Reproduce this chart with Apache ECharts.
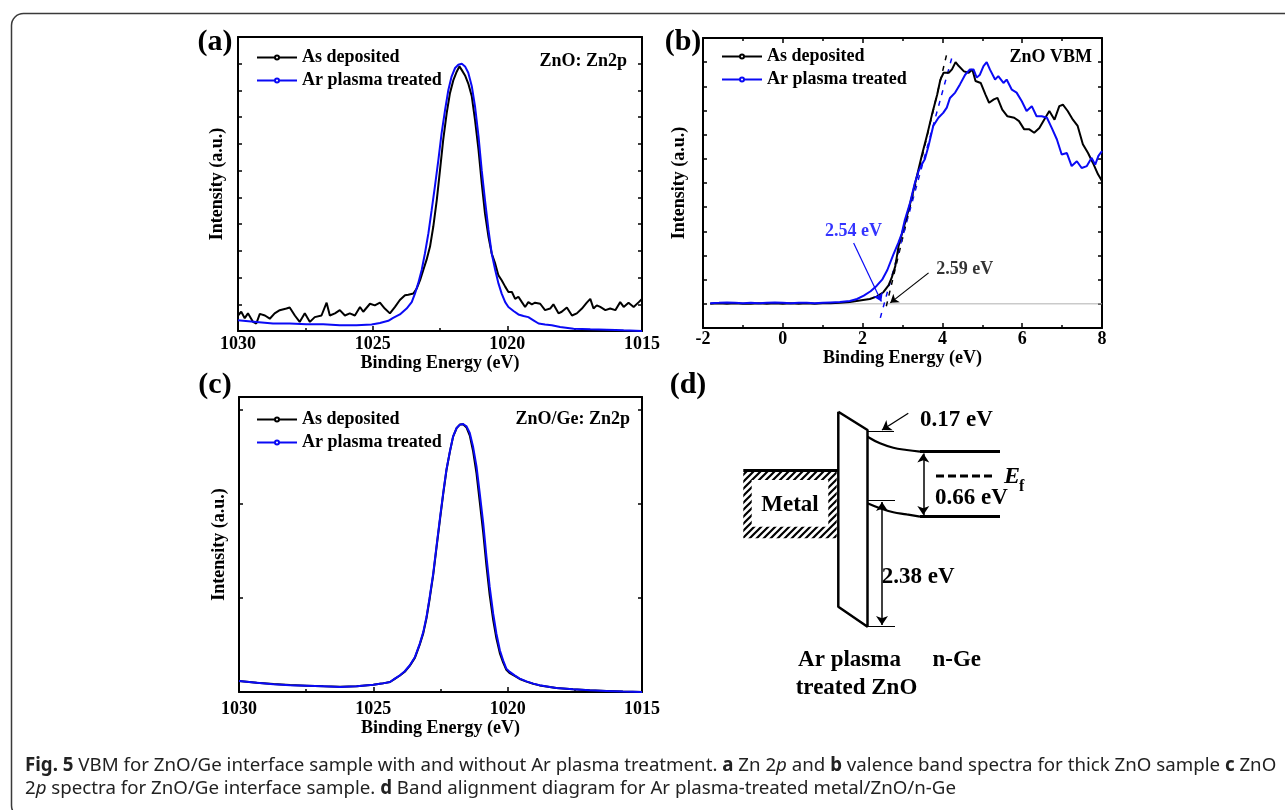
<!DOCTYPE html>
<html>
<head>
<meta charset="utf-8">
<script src="https://cdn.jsdelivr.net/npm/echarts@6/dist/echarts.min.js"></script>
<style>
  html, body { margin: 0; padding: 0; background: #fff; }
  #chart { width: 1285px; height: 810px; }
</style>
</head>
<body>
<div id="chart"></div>
<script>
// ---- (a) ZnO: Zn2p, thick ZnO sample  [binding energy eV, intensity a.u.]
const aAsDeposited = [
  [1030.00, 0.29], [1029.88, 0.36], [1029.75, 0.24], [1029.63, 0.33], [1029.44, 0.17], [1029.32, 0.14],
  [1029.19, 0.32], [1029.00, 0.29], [1028.82, 0.23], [1028.64, 0.33], [1028.45, 0.39], [1028.20, 0.42],
  [1028.08, 0.44], [1027.89, 0.29], [1027.71, 0.17], [1027.52, 0.33], [1027.33, 0.17], [1027.15, 0.26],
  [1026.90, 0.29], [1026.71, 0.53], [1026.59, 0.29], [1026.40, 0.33], [1026.22, 0.39], [1026.03, 0.29],
  [1025.85, 0.33], [1025.66, 0.29], [1025.47, 0.45], [1025.35, 0.36], [1025.10, 0.51], [1024.92, 0.48],
  [1024.73, 0.53], [1024.55, 0.42], [1024.36, 0.33], [1024.17, 0.45], [1023.99, 0.58], [1023.80, 0.67],
  [1023.68, 0.68], [1023.49, 0.70], [1023.37, 0.79], [1023.24, 0.95], [1023.12, 1.14], [1023.00, 1.33],
  [1022.87, 1.58], [1022.75, 1.95], [1022.62, 2.45], [1022.50, 3.01], [1022.38, 3.58], [1022.25, 4.08],
  [1022.13, 4.45], [1022.00, 4.70], [1021.88, 4.85], [1021.78, 4.95], [1021.69, 4.88], [1021.57, 4.78],
  [1021.45, 4.63], [1021.32, 4.39], [1021.20, 3.95], [1021.07, 3.39], [1020.95, 2.76], [1020.83, 2.20],
  [1020.70, 1.76], [1020.58, 1.45], [1020.45, 1.26], [1020.33, 1.04], [1020.21, 0.95], [1020.08, 0.83],
  [1019.96, 0.73], [1019.83, 0.73], [1019.71, 0.60], [1019.59, 0.64], [1019.46, 0.54], [1019.34, 0.45],
  [1019.22, 0.54], [1019.09, 0.50], [1018.97, 0.53], [1018.78, 0.51], [1018.60, 0.39], [1018.41, 0.42],
  [1018.29, 0.50], [1018.10, 0.33], [1017.98, 0.36], [1017.79, 0.44], [1017.60, 0.29], [1017.42, 0.33],
  [1017.23, 0.42], [1017.05, 0.53], [1016.92, 0.60], [1016.80, 0.42], [1016.68, 0.48], [1016.55, 0.45],
  [1016.36, 0.39], [1016.18, 0.42], [1015.99, 0.39], [1015.81, 0.54], [1015.68, 0.45], [1015.50, 0.53],
  [1015.31, 0.45], [1015.12, 0.54], [1015.00, 0.60]
];
const aArPlasma = [
  [1030.00, 0.20], [1029.32, 0.17], [1028.70, 0.14], [1028.08, 0.14], [1027.46, 0.125], [1026.84, 0.125],
  [1026.22, 0.106], [1025.60, 0.106], [1025.04, 0.12], [1024.73, 0.15], [1024.42, 0.19], [1024.24, 0.245],
  [1023.99, 0.31], [1023.74, 0.42], [1023.55, 0.54], [1023.43, 0.70], [1023.31, 0.89], [1023.18, 1.14],
  [1023.06, 1.45], [1022.93, 1.83], [1022.81, 2.26], [1022.69, 2.70], [1022.56, 3.20], [1022.44, 3.70],
  [1022.31, 4.14], [1022.19, 4.51], [1022.07, 4.76], [1021.94, 4.92], [1021.82, 4.98], [1021.69, 5.00],
  [1021.57, 4.95], [1021.45, 4.83], [1021.32, 4.58], [1021.20, 4.20], [1021.07, 3.64], [1020.95, 3.00],
  [1020.83, 2.45], [1020.70, 1.89], [1020.58, 1.45], [1020.45, 1.14], [1020.33, 0.89], [1020.21, 0.70],
  [1020.08, 0.54], [1019.96, 0.45], [1019.77, 0.375], [1019.59, 0.31], [1019.40, 0.28], [1019.22, 0.26],
  [1019.03, 0.20], [1018.84, 0.14], [1018.60, 0.12], [1018.35, 0.106], [1018.04, 0.075], [1017.54, 0.044],
  [1016.92, 0.031], [1016.30, 0.025], [1015.68, 0.0125], [1015.00, 0.0]
];

// ---- (b) ZnO VBM  [binding energy eV, intensity a.u.]
const bAsDeposited = [
  [-1.82, 0.00], [-1.6, 0.01], [-1.4, 0.00], [-1.2, 0.01], [-1.0, 0.00], [-0.8, 0.00], [-0.6, 0.01],
  [-0.4, 0.00], [-0.2, 0.01], [0.0, 0.00], [0.2, 0.01], [0.4, 0.00], [0.6, 0.01], [0.8, 0.00], [1.0, 0.01],
  [1.2, 0.01], [1.43, 0.02], [1.68, 0.04], [1.93, 0.07], [2.18, 0.10], [2.35, 0.15], [2.52, 0.24],
  [2.65, 0.38], [2.73, 0.54], [2.82, 0.78], [2.90, 1.19], [2.98, 1.43], [3.11, 1.81], [3.24, 2.23],
  [3.36, 2.64], [3.49, 3.09], [3.61, 3.47], [3.74, 3.92], [3.87, 4.33], [3.95, 4.64], [4.03, 4.78],
  [4.16, 4.78], [4.24, 4.85], [4.33, 5.00], [4.41, 4.92], [4.54, 4.81], [4.66, 4.78], [4.75, 4.85],
  [4.83, 4.61], [4.96, 4.57], [5.08, 4.33], [5.17, 4.16], [5.29, 4.23], [5.38, 4.26], [5.50, 4.02],
  [5.63, 3.88], [5.80, 3.85], [5.92, 3.78], [6.05, 3.61], [6.18, 3.61], [6.30, 3.54], [6.43, 3.64],
  [6.55, 3.81], [6.68, 3.99], [6.81, 3.81], [6.93, 4.09], [7.02, 4.12], [7.14, 3.99], [7.27, 3.81],
  [7.39, 3.68], [7.52, 3.30], [7.65, 3.12], [7.77, 2.92], [7.90, 2.68], [8.00, 2.54]
];
const bArPlasma = [
  [-1.82, 0.01], [-1.6, 0.02], [-1.4, 0.03], [-1.2, 0.02], [-1.0, 0.01], [-0.8, 0.02], [-0.6, 0.01],
  [-0.4, 0.02], [-0.2, 0.03], [0.0, 0.02], [0.2, 0.01], [0.4, 0.02], [0.6, 0.02], [0.8, 0.01], [1.0, 0.02],
  [1.2, 0.03], [1.43, 0.04], [1.68, 0.06], [1.86, 0.10], [2.03, 0.17], [2.20, 0.26], [2.35, 0.37],
  [2.49, 0.50], [2.62, 0.70], [2.77, 1.02], [2.90, 1.27], [2.98, 1.45], [3.06, 1.74], [3.19, 2.09],
  [3.31, 2.50], [3.40, 2.74], [3.48, 2.88], [3.56, 2.99], [3.65, 3.26], [3.77, 3.68], [3.90, 3.85],
  [4.02, 3.95], [4.11, 4.06], [4.19, 4.26], [4.32, 4.37], [4.44, 4.54], [4.57, 4.74], [4.69, 4.85],
  [4.78, 4.85], [4.86, 4.68], [4.94, 4.74], [5.03, 4.92], [5.11, 5.00], [5.19, 4.85], [5.32, 4.64],
  [5.40, 4.71], [5.53, 4.57], [5.61, 4.64], [5.74, 4.43], [5.86, 4.37], [5.99, 4.19], [6.11, 3.99],
  [6.24, 4.09], [6.36, 3.88], [6.49, 3.88], [6.62, 3.85], [6.74, 3.64], [6.87, 3.40], [6.99, 3.09],
  [7.12, 3.12], [7.24, 2.85], [7.37, 2.95], [7.49, 2.81], [7.62, 2.85], [7.74, 3.02], [7.83, 2.88],
  [7.91, 3.06], [8.00, 3.16]
];
const bBaseline = [[-1.82, 0], [8, 0]];
const bEdgeFitAsDeposited = [[2.594, -0.05], [4.115, 5.19]];
const bEdgeFitArPlasma = [[2.444, -0.29], [4.266, 5.18]];
const bArrowArPlasma = [[1.775, 1.26], [2.47, 0.05]];
const bArrowAsDeposited = [[3.654, 0.64], [2.694, 0.02]];
const bOnsetLabels = [['2.54 eV', 1.774, 1.50], ['2.59 eV', 4.56, 0.72]];

// ---- (c) ZnO/Ge: Zn2p  [binding energy eV, intensity a.u.]
const cAsDeposited = [
  [1030.00, 0.117], [1029.34, 0.099], [1028.72, 0.085], [1028.10, 0.074], [1027.48, 0.067], [1026.86, 0.060],
  [1026.24, 0.055], [1025.62, 0.060], [1025.00, 0.078], [1024.69, 0.089], [1024.38, 0.106], [1024.20, 0.140],
  [1024.01, 0.175], [1023.83, 0.215], [1023.64, 0.280], [1023.45, 0.365], [1023.27, 0.505], [1023.14, 0.625],
  [1023.02, 0.785], [1022.90, 0.995], [1022.77, 1.245], [1022.65, 1.530], [1022.52, 1.830], [1022.40, 2.100],
  [1022.28, 2.350], [1022.15, 2.550], [1022.03, 2.710], [1021.90, 2.800], [1021.78, 2.837], [1021.66, 2.840],
  [1021.53, 2.805], [1021.41, 2.720], [1021.29, 2.560], [1021.16, 2.320], [1021.04, 2.020], [1020.91, 1.690],
  [1020.79, 1.340], [1020.67, 1.030], [1020.54, 0.765], [1020.42, 0.570], [1020.29, 0.410], [1020.17, 0.315],
  [1020.05, 0.235], [1019.92, 0.200], [1019.74, 0.170], [1019.55, 0.138], [1019.30, 0.110], [1019.05, 0.087],
  [1018.81, 0.070], [1018.43, 0.052], [1018.19, 0.042], [1017.57, 0.028], [1016.95, 0.018], [1016.33, 0.011],
  [1015.71, 0.004], [1015.00, 0.0]
];
const cArPlasma = [
  [1030.00, 0.117], [1029.34, 0.099], [1028.72, 0.082], [1028.10, 0.071], [1027.48, 0.067], [1026.86, 0.060],
  [1026.24, 0.053], [1025.62, 0.060], [1025.00, 0.078], [1024.69, 0.089], [1024.38, 0.106], [1024.20, 0.142],
  [1024.01, 0.177], [1023.83, 0.220], [1023.64, 0.284], [1023.45, 0.372], [1023.27, 0.514], [1023.14, 0.638],
  [1023.02, 0.798], [1022.90, 1.011], [1022.77, 1.259], [1022.65, 1.543], [1022.52, 1.844], [1022.40, 2.110],
  [1022.28, 2.358], [1022.15, 2.553], [1022.03, 2.713], [1021.90, 2.801], [1021.78, 2.837], [1021.66, 2.844],
  [1021.53, 2.819], [1021.41, 2.748], [1021.29, 2.606], [1021.16, 2.394], [1021.04, 2.110], [1020.91, 1.791],
  [1020.79, 1.436], [1020.67, 1.117], [1020.54, 0.833], [1020.42, 0.621], [1020.29, 0.443], [1020.17, 0.337],
  [1020.05, 0.248], [1019.92, 0.213], [1019.74, 0.177], [1019.55, 0.142], [1019.30, 0.113], [1019.05, 0.089],
  [1018.81, 0.071], [1018.43, 0.053], [1018.19, 0.043], [1017.57, 0.028], [1016.95, 0.018], [1016.33, 0.011],
  [1015.71, 0.004], [1015.00, 0.0]
];

// ---- (d) band diagram, schematic units (x right, y down)
const dLevels = [
  [[23.3, 70], [118.3, 70]],      // metal Fermi level
  [[200, 51.7], [280, 51.7]],     // n-Ge Ec
  [[200, 116.7], [280, 116.7]]    // n-Ge Ev
];
const dBarrier = [[118.3, 11.7], [147.5, 30], [147.5, 226.7], [118.3, 206.7], [118.3, 11.7]];
const dBendEc = [[147.5, 36.7], [160, 43.3], [173.3, 47.7], [186.7, 50], [200, 51.7]];
const dBendEv = [[147.5, 103.3], [160, 108.3], [173.3, 112.3], [186.7, 114.3], [200, 116.7]];
const dMarks = [
  [[147.5, 31.7], [174, 31.7]],
  [[147.5, 100], [175, 100]],
  [[147.5, 226.7], [175, 226.7]]
];
const dDoubleArrows = [
  [[162, 102], [162, 225]],
  [[203.3, 53.5], [203.3, 115]]
];
const dArrow = [[188.3, 13.3], [162, 30]];
const dFermi = [[216, 76], [273.3, 76]];
const dMetalBox = [23.3, 71.7, 116.7, 138.3];
const dMetalHole = [31.7, 80, 108.3, 126.7];
const dValueLabels = [['0.17 eV', 200, 20], ['0.66 eV', 215, 98.3], ['2.38 eV', 161.7, 176.7]];
const dRegionLabels = [['Ar plasma', 129.5, 260], ['treated ZnO', 136.5, 288.3], ['n-Ge', 236.7, 260], ['Metal', 70, 105]];
const dFermiSymbol = [['E', 292, 76.7], ['f', 301.7, 87]];

const names = ['As deposited', 'Ar plasma treated'];
const BLACK = '#000000';
const BLUE = '#0a0af5';
const SERIF = '"Liberation Serif", "Times New Roman", serif';
const SANS = '"Noto Sans", "Open Sans", sans-serif';

const chart = echarts.init(document.getElementById('chart'));

const boldSerif = { fontFamily: SERIF, fontWeight: 'bold', fontSize: 18, color: '#000' };
const frame = { show: true, onZero: false, lineStyle: { color: '#000', width: 2 } };
const tickStyle = { color: '#000', width: 1.5 };

function xAxisOf(grid, min, max, interval, opts) {
  const top = opts.top;
  return {
    gridIndex: grid, type: 'value', min: min, max: max, interval: interval,
    inverse: !!opts.inverse, position: top ? 'top' : 'bottom',
    axisLine: frame,
    axisTick: { show: opts.ticks, inside: true, length: 5, lineStyle: tickStyle },
    minorTick: { show: opts.ticks, splitNumber: 2, length: 3, lineStyle: tickStyle },
    axisLabel: { show: !top, margin: opts.margin, formatter: function (v) { return String(v); }, ...boldSerif },
    splitLine: { show: false },
    name: top ? '' : 'Binding Energy (eV)',
    nameLocation: 'middle', nameGap: opts.nameGap, nameTextStyle: boldSerif
  };
}
function yAxisOf(grid, min, max, interval, opts) {
  const right = opts.right;
  return {
    gridIndex: grid, type: 'value', min: min, max: max, interval: interval,
    position: right ? 'right' : 'left',
    axisLine: frame,
    axisTick: { show: true, inside: true, length: 4, lineStyle: tickStyle },
    axisLabel: { show: false },
    splitLine: { show: false },
    name: right ? '' : 'Intensity (a.u.)',
    nameLocation: 'middle', nameGap: opts.nameGap, nameTextStyle: boldSerif
  };
}

function spectrum(name, data, color, axis) {
  return {
    name: name, type: 'line', data: data, xAxisIndex: axis, yAxisIndex: axis,
    showSymbol: false, symbol: 'emptyCircle', symbolSize: 3,
    lineStyle: { color: color, width: 2 }, itemStyle: { color: color },
    z: color === BLUE ? 4 : 3, silent: true
  };
}
function segment(data, color, width, type, axis) {
  return {
    type: 'line', data: data, xAxisIndex: axis, yAxisIndex: axis, showSymbol: false, symbol: 'none',
    lineStyle: { color: color, width: width, type: type }, z: 2, silent: true
  };
}
function arrows(list, color, width, ends, size, axis) {
  return {
    type: 'lines', coordinateSystem: 'cartesian2d', xAxisIndex: axis, yAxisIndex: axis,
    data: list.map(function (c) { return { coords: c }; }),
    symbol: ends, symbolSize: size,
    lineStyle: { color: color, width: width, opacity: 1 }, z: 5, silent: true
  };
}
function legendAt(left, top) {
  return {
    data: names, orient: 'vertical', left: left, top: top,
    itemWidth: 40, itemHeight: 5, itemGap: 4, selectedMode: false,
    textStyle: { fontFamily: SERIF, fontWeight: 'bold', fontSize: 18, lineHeight: 19, color: '#000' }
  };
}
function textSeries(list, font, align, color) {
  return {
    type: 'custom', xAxisIndex: 6, yAxisIndex: 6, silent: true, z: 6,
    data: list.map(function (l) { return [l[1], l[2]]; }),
    renderItem: function (params, api) {
      const p = api.coord([api.value(0), api.value(1)]);
      return {
        type: 'text', x: p[0], y: p[1],
        style: { text: list[params.dataIndex][0], font: font, fill: color || '#000', align: align, verticalAlign: 'middle' }
      };
    }
  };
}

// hatch pattern for the metal
const hatchCanvas = document.createElement('canvas');
hatchCanvas.width = 7; hatchCanvas.height = 7;
const hg = hatchCanvas.getContext('2d');
hg.strokeStyle = '#000'; hg.lineWidth = 2.2;
hg.beginPath();
hg.moveTo(-1, 8); hg.lineTo(8, -1);
hg.moveTo(-1, 1); hg.lineTo(1, -1);
hg.moveTo(6, 8); hg.lineTo(8, 6);
hg.stroke();
const hatch = { image: hatchCanvas, repeat: 'repeat' };

const captionRich = {
  b: { fontFamily: SANS, fontSize: 18.6, fontWeight: 'bold', fill: '#222' },
  i: { fontFamily: SANS, fontSize: 18.6, fontStyle: 'italic', fill: '#222' }
};

const option = {
  animation: false,
  backgroundColor: '#fff',
  grid: [
    { left: 238, top: 37, width: 404, height: 294 },
    { left: 703, top: 38, width: 399, height: 290 },
    { left: 239, top: 397, width: 403, height: 295 },
    { left: 720, top: 400, width: 320, height: 300 }
  ],
  xAxis: [
    xAxisOf(0, 1015, 1030, 5, { inverse: true, ticks: true, margin: 4, nameGap: 20 }),
    xAxisOf(0, 1015, 1030, 5, { inverse: true, top: true, ticks: false }),
    xAxisOf(1, -2, 8, 2, { ticks: true, margin: 2, nameGap: 17 }),
    xAxisOf(1, -2, 8, 2, { top: true, ticks: true }),
    xAxisOf(2, 1015, 1030, 5, { inverse: true, ticks: true, margin: 8, nameGap: 21 }),
    xAxisOf(2, 1015, 1030, 5, { inverse: true, top: true, ticks: false }),
    { gridIndex: 3, type: 'value', min: 0, max: 320, show: false }
  ],
  yAxis: [
    yAxisOf(0, 0, 5.5, 0.5, { nameGap: 12 }),
    yAxisOf(0, 0, 5.5, 0.5, { right: true }),
    yAxisOf(1, -0.5, 5.5, 0.5, { nameGap: 15 }),
    yAxisOf(1, -0.5, 5.5, 0.5, { right: true }),
    yAxisOf(2, 0, 3.13, 1, { nameGap: 11 }),
    yAxisOf(2, 0, 3.13, 1, { right: true }),
    { gridIndex: 3, type: 'value', min: 0, max: 300, inverse: true, show: false }
  ],
  legend: [legendAt(251, 43), legendAt(716, 42), legendAt(251, 405)],
  series: [
    spectrum(names[0], aAsDeposited, BLACK, 0),
    spectrum(names[1], aArPlasma, BLUE, 0),

    segment(bBaseline, '#b0b0b0', 1, 'solid', 2),
    spectrum(names[0], bAsDeposited, BLACK, 2),
    spectrum(names[1], bArPlasma, BLUE, 2),
    segment(bEdgeFitAsDeposited, BLACK, 1.5, [5, 6], 2),
    segment(bEdgeFitArPlasma, BLUE, 1.5, [5, 6], 2),
    arrows([bArrowArPlasma], BLUE, 1.2, ['none', 'arrow'], 8, 2),
    arrows([bArrowAsDeposited], BLACK, 1.2, ['none', 'arrow'], 8, 2),
    {
      type: 'scatter', xAxisIndex: 2, yAxisIndex: 2, symbolSize: 0, silent: true, z: 6,
      data: bOnsetLabels.map(function (l, i) {
        return {
          value: [l[1], l[2]],
          label: {
            show: true, position: 'inside', formatter: l[0],
            fontFamily: SERIF, fontWeight: 'bold', fontSize: 18, color: i === 0 ? '#0000ff' : BLACK
          }
        };
      })
    },

    spectrum(names[0], cAsDeposited, BLACK, 4),
    spectrum(names[1], cArPlasma, BLUE, 4),

    // (d) band alignment diagram
    {
      type: 'custom', xAxisIndex: 6, yAxisIndex: 6, silent: true, z: 1,
      data: [[dMetalBox[0], dMetalBox[1]]],
      renderItem: function (params, api) {
        const p0 = api.coord([dMetalBox[0], dMetalBox[1]]);
        const p1 = api.coord([dMetalBox[2], dMetalBox[3]]);
        const q0 = api.coord([dMetalHole[0], dMetalHole[1]]);
        const q1 = api.coord([dMetalHole[2], dMetalHole[3]]);
        return {
          type: 'group', children: [
            { type: 'rect', shape: { x: p0[0], y: p0[1], width: p1[0] - p0[0], height: p1[1] - p0[1] }, style: { fill: hatch } },
            { type: 'rect', shape: { x: q0[0], y: q0[1], width: q1[0] - q0[0], height: q1[1] - q0[1] }, style: { fill: '#fff' } }
          ]
        };
      }
    },
    arrows(dLevels, BLACK, 3, ['none', 'none'], 0, 6),
    segment(dBarrier, BLACK, 2.5, 'solid', 6),
    Object.assign(segment(dBendEc, BLACK, 2.2, 'solid', 6), { smooth: 0.4 }),
    Object.assign(segment(dBendEv, BLACK, 2.2, 'solid', 6), { smooth: 0.4 }),
    arrows(dMarks, BLACK, 1.2, ['none', 'none'], 0, 6),
    arrows(dDoubleArrows, BLACK, 1.5, ['arrow', 'arrow'], 9, 6),
    arrows([dArrow], BLACK, 1.3, ['none', 'arrow'], 9, 6),
    segment(dFermi, BLACK, 3, [8, 4], 6),
    textSeries(dValueLabels, 'bold 23px ' + SERIF, 'left'),
    textSeries(dRegionLabels, 'bold 23px ' + SERIF, 'center'),
    textSeries(dFermiSymbol.slice(0, 1), 'italic bold 24px ' + SERIF, 'center'),
    textSeries(dFermiSymbol.slice(1), 'bold 16px ' + SERIF, 'center')
  ],
  graphic: [
    {
      type: 'rect', left: 9, top: 11, silent: true, z: 0,
      shape: { x: 0, y: 0, width: 1300, height: 804, r: 12 },
      style: { fill: 'none', stroke: '#3a3a3a', lineWidth: 1.5 }
    },
    { type: 'text', x: 215, y: 42, style: { text: '(a)', font: 'bold 30px ' + SERIF, fill: '#000', align: 'center', verticalAlign: 'middle' } },
    { type: 'text', x: 683, y: 42, style: { text: '(b)', font: 'bold 30px ' + SERIF, fill: '#000', align: 'center', verticalAlign: 'middle' } },
    { type: 'text', x: 215, y: 385, style: { text: '(c)', font: 'bold 30px ' + SERIF, fill: '#000', align: 'center', verticalAlign: 'middle' } },
    { type: 'text', x: 688, y: 385, style: { text: '(d)', font: 'bold 30px ' + SERIF, fill: '#000', align: 'center', verticalAlign: 'middle' } },
    { type: 'text', x: 627, y: 61, style: { text: 'ZnO: Zn2p', font: 'bold 18px ' + SERIF, fill: '#000', align: 'right', verticalAlign: 'middle' } },
    { type: 'text', x: 1092, y: 57, style: { text: 'ZnO VBM', font: 'bold 18px ' + SERIF, fill: '#000', align: 'right', verticalAlign: 'middle' } },
    { type: 'text', x: 630, y: 419, style: { text: 'ZnO/Ge: Zn2p', font: 'bold 18px ' + SERIF, fill: '#000', align: 'right', verticalAlign: 'middle' } },
    {
      type: 'text', x: 25, y: 766,
      style: {
        text: '{b|Fig. 5} VBM for ZnO/Ge interface sample with and without Ar plasma treatment. {b|a} Zn 2{i|p} and {b|b} valence band spectra for thick ZnO sample {b|c} ZnO',
        font: '18.7px ' + SANS, fill: '#222', verticalAlign: 'middle',
        rich: {
          b: { fontFamily: SANS, fontSize: 18.7, fontWeight: 'bold', fill: '#222' },
          i: { fontFamily: SANS, fontSize: 18.7, fontStyle: 'italic', fill: '#222' }
        }
      }
    },
    {
      type: 'text', x: 25, y: 789,
      style: {
        text: '2{i|p} spectra for ZnO/Ge interface sample. {b|d} Band alignment diagram for Ar plasma-treated metal/ZnO/n-Ge',
        font: '18.7px ' + SANS, fill: '#222', verticalAlign: 'middle',
        rich: {
          b: { fontFamily: SANS, fontSize: 18.7, fontWeight: 'bold', fill: '#222' },
          i: { fontFamily: SANS, fontSize: 18.7, fontStyle: 'italic', fill: '#222' }
        }
      }
    }
  ]
};

chart.setOption(option);
</script>
</body>
</html>
